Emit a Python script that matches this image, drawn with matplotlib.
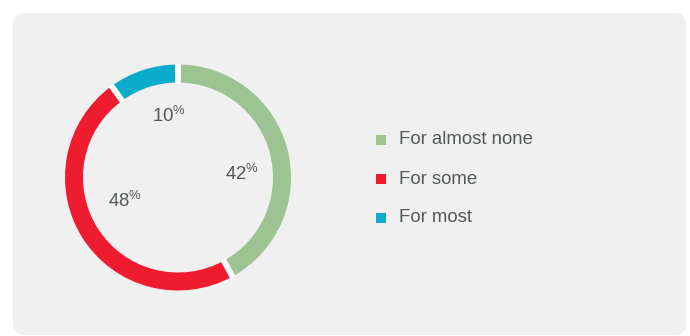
import matplotlib.pyplot as plt
import numpy as np
from matplotlib.patches import FancyBboxPatch, Rectangle

plt.rcParams['font.family'] = ['Liberation Sans', 'DejaVu Sans']
plt.rcParams['mathtext.fontset'] = 'custom'
plt.rcParams['mathtext.rm'] = 'Liberation Sans'
plt.rcParams['mathtext.default'] = 'rm'

labels = ['For almost none', 'For some', 'For most']
shares = [42, 48, 10]
colors = ['#9dc393', '#ee1c2e', '#0aabcb']

text_color = '#535958'
panel_color = '#eff0ef'

W, H = 690, 336
fig = plt.figure(figsize=(W / 100, H / 100), dpi=100, facecolor='white')
ax = fig.add_axes([0, 0, 1, 1])

# rounded grey panel
ax.add_patch(FancyBboxPatch((13 + 12, 1 + 12), 673 - 24, 322 - 24,
                            boxstyle='round,pad=12', fc=panel_color, ec='none'))

# donut
cx, cy = 178, H - 177.5
r_out, ring = 113, 18
wedges, _ = ax.pie(shares, colors=colors, startangle=90, counterclock=False,
                   radius=r_out, center=(cx, cy), frame=True,
                   wedgeprops=dict(width=ring, linewidth=0))

# white gaps between segments
bounds = 90 - np.cumsum([0] + shares[:-1]) / 100 * 360
for a in np.radians(bounds):
    ax.plot([cx + (r_out - ring - 1) * np.cos(a), cx + (r_out + 1) * np.cos(a)],
            [cy + (r_out - ring - 1) * np.sin(a), cy + (r_out + 1) * np.sin(a)],
            color='white', lw=4.2, solid_capstyle='butt')

# percentage labels (left x, baseline y in pixels from top)
label_pos = [(225, 180), (108, 207), (152, 122)]
for v, (x, y) in zip(shares, label_pos):
    ax.text(x, H - y, f'{v}' + r'$^{\%}$', fontsize=13.4, color=text_color,
            ha='left', va='baseline')

# legend
for i, (lab, c) in enumerate(zip(labels, colors)):
    yc = H - (140 + i * 39)
    ax.add_patch(Rectangle((376, yc - 5), 10, 10, fc=c, ec='none'))
    ax.text(399, yc, lab, fontsize=13.4, color=text_color, ha='left', va='center')

ax.set_xlim(0, W)
ax.set_ylim(0, H)
ax.set_aspect('auto')
ax.axis('off')

fig.savefig('out.png', dpi=100, facecolor='white')
